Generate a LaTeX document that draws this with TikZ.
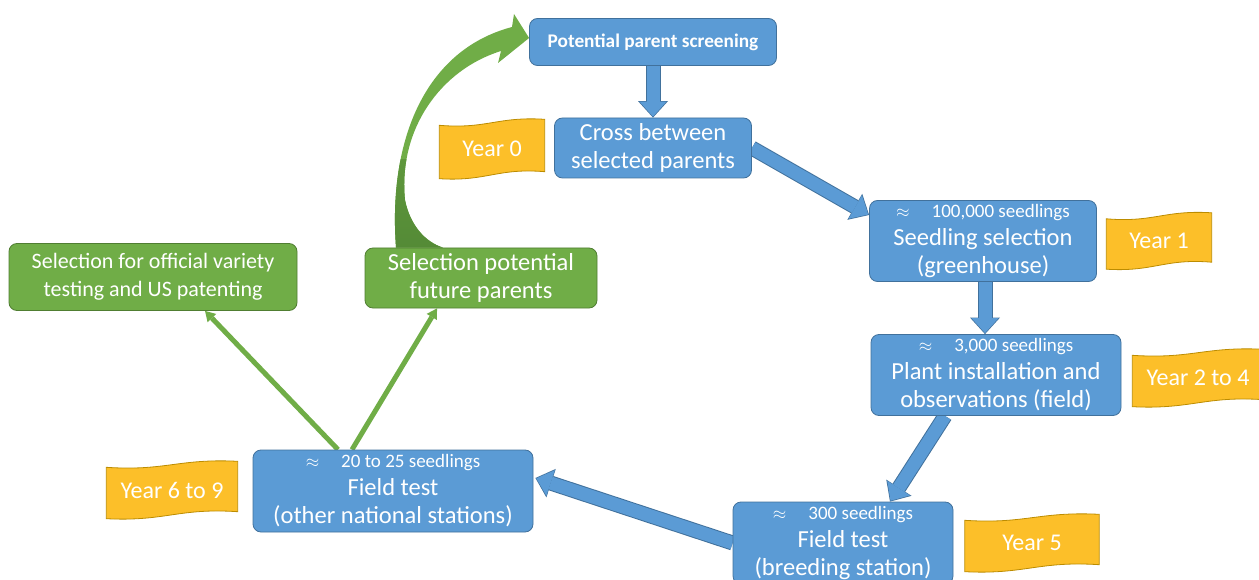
\documentclass[tikz,border=0pt]{standalone}
\usepackage{fontspec}
\setmainfont{Carlito}
\usetikzlibrary{arrows.meta,calc,backgrounds}
\definecolor{stepblue}{HTML}{5B9BD5}
\definecolor{stepline}{HTML}{41719C}
\definecolor{pickgreen}{HTML}{70AD47}
\definecolor{pickline}{HTML}{507E32}
\definecolor{pickdark}{HTML}{548A36}
\definecolor{yearfill}{HTML}{FCBF29}
\definecolor{yearline}{HTML}{BC8C00}

% first line of a box: number of seedlings
\newcommand{\seed}[1]{{\fontsize{19}{22}\selectfont$\approx$\hspace{22pt}#1}}
% wavy flag behind a year node
\newcommand{\flag}[1]{%
  \path[draw=yearline, fill=yearfill, line width=0.8pt]
    let \p1=(#1.north west), \p2=(#1.south east) in
    (\x1,\y1-6pt) .. controls (0.55*\x1+0.45*\x2,\y1-10pt) and (0.45*\x1+0.55*\x2,\y1+3pt) .. (\x2,\y1)
    -- (\x2,\y2+7pt) .. controls (0.45*\x1+0.55*\x2,\y2+11pt) and (0.55*\x1+0.45*\x2,\y2-3pt) .. (\x1,\y2)
    -- cycle;}

\begin{document}
\begin{tikzpicture}[x=1pt, y=-1pt,
    stage/.style={draw=stepline, fill=stepblue, rounded corners=8pt, line width=0.8pt, text=white, align=center, inner sep=0pt, font=\fontsize{24.5}{28}\selectfont},
    pick/.style={stage, draw=pickline, fill=pickgreen},
    year/.style={text=white, font=\fontsize{24}{28}\selectfont, minimum width=#1, minimum height=57pt, inner sep=0pt},
    flow/.style={draw=stepblue, line width=13pt, -{Triangle[width=27pt,length=15pt,line width=0pt]}, shorten >=1pt,
        preaction={draw=stepline, line width=15pt, shorten >=0pt, -{Triangle[width=30pt,length=16.5pt,line width=0pt]}}},
    back/.style={draw=pickgreen, line width=5pt, -{Triangle[width=12pt,length=10pt,line width=0pt]}}
]
\useasboundingbox (0,0) rectangle (1259,580);

\node[stage, font=\bfseries\fontsize{19.3}{23}\selectfont, minimum width=247pt, minimum height=47pt] (screen) at (653,42) {Potential parent screening};
\node[stage, minimum width=197pt, minimum height=60pt] (cross) at (653,148) {Cross between\\selected parents};
\node[stage, minimum width=227pt, minimum height=81pt] (seedling) at (983,241) {\seed{100,000 seedlings}\\Seedling selection\\(greenhouse)};
\node[stage, minimum width=250pt, minimum height=81pt] (plant) at (996,375) {\seed{3,000 seedlings}\\Plant installation and\\observations (field)};
\node[stage, minimum width=220pt, minimum height=82pt] (station) at (843,543) {\seed{300 seedlings}\\Field test\\(breeding station)};
\node[stage, minimum width=280pt, minimum height=82pt] (national) at (393,491) {\seed{20 to 25 seedlings}\\Field test\\(other national stations)};
\node[pick, font=\fontsize{22}{28}\selectfont, minimum width=288pt, minimum height=67pt] (official) at (153,277) {Selection for official variety\\testing and US patenting};
\node[pick, minimum width=232pt, minimum height=60pt] (parents) at (481,278) {Selection potential\\future parents};

% years
\node[year=105pt, minimum height=59pt] (y0) at (492,149) {Year 0};
\node[year=105pt, minimum height=56pt] (y1) at (1159,241) {Year 1};
\node[year=131pt] (y2) at (1198,378) {Year 2 to 4};
\node[year=134pt] (y5) at (1032,543) {Year 5};
\node[year=131pt] (y6) at (172,490) {Year 6 to 9};

\begin{scope}[on background layer]
\flag{y0} \flag{y1} \flag{y2} \flag{y5} \flag{y6}

\draw[flow] (screen.south) -- (cross.north);
\draw[flow] (cross.east) -- ($(seedling.west)+(0,-26)$);
\draw[flow] ($(seedling.south)+(2,0)$) -- ($(plant.north)+(-11,0)$);
\draw[flow] ($(plant.south)+(-51,0)$) -- ($(station.north)+(47,0)$);
\draw[flow] (station.west) -- ($(national.east)+(2,-13)$);

\draw[back] ($(national.north)+(-55,0)$) -- ($(official.south)+(52,0)$);
\draw[back] ($(national.north)+(-41,0)$) -- ($(parents.south)+(-44,0)$);

% curved arrow back to the screening
\fill[pickgreen, path picture={\shade[top color=pickgreen, bottom color=pickdark] (370,160) rectangle (470,250);}]
    ($(parents.north)+(-85,0)$) .. controls (388,140) and (425,50) .. (512,27)
    -- (514,14) -- ($(screen.west)+(0,-4)$) -- (498,63) -- (501,51)
    .. controls (440,70) and (398,130) .. (405,200)
    .. controls (410,225) and (425,242) .. ($(parents.north)+(-38,0)$) -- cycle;
\end{scope}
\end{tikzpicture}
\end{document}
